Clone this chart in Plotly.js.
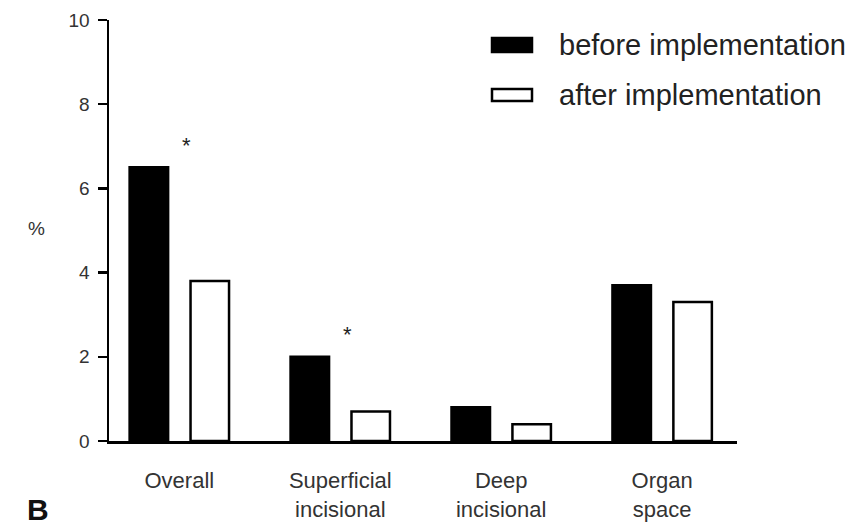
<!DOCTYPE html>
<html>
<head>
<meta charset="utf-8">
<script src="https://cdn.plot.ly/plotly-3.0.1.min.js"></script>
<style>html,body{margin:0;padding:0;background:#fff;}#chart{width:864px;height:529px;}</style>
</head>
<body>
<div id="chart"></div>
<script>
// ---- data ----
const categories = ["Overall", "Superficial incisional", "Deep incisional", "Organ space"];
const tickLabels = ["Overall", "Superficial<br>incisional", "Deep<br>incisional", "Organ<br>space"];
const seriesNames = ["before implementation", "after implementation"];
const beforeValues = [6.5, 2.0, 0.8, 3.7];
const afterValues = [3.8, 0.7, 0.4, 3.3];
const significant = [true, true, false, false];
const yTicks = [0, 2, 4, 6, 8, 10];

// ---- layout geometry (pixels) ----
const W = 864, H = 529;
const plotL = 109, plotR = 737, plotT = 20, plotB = 441;
const px = x => (x - plotL) / (plotR - plotL);
const py = y => (plotB - y) / (plotB - plotT);

const catIdx = categories.map((c, i) => i);
const FONT = "Liberation Sans, Arial, sans-serif";

const traces = [
  {
    type: "bar", name: seriesNames[0], x: catIdx, y: beforeValues,
    marker: {color: "#000000", line: {color: "#000000", width: 2.5}},
    showlegend: false, hoverinfo: "y"
  },
  {
    type: "bar", name: seriesNames[1], x: catIdx, y: afterValues,
    marker: {color: "#ffffff", line: {color: "#000000", width: 2.5}},
    showlegend: false, hoverinfo: "y"
  }
];

const annotations = [];
significant.forEach((s, i) => {
  if (s) {
    annotations.push({
      x: i + 0.046, xref: "x", y: Math.max(beforeValues[i], afterValues[i]) + 0.53, yref: "y",
      text: "*", showarrow: false, xanchor: "center", yanchor: "middle",
      font: {family: FONT, size: 22, color: "#222"}
    });
  }
});
// y axis label
annotations.push({
  x: px(36), y: py(228), xref: "paper", yref: "paper", text: "%", showarrow: false,
  xanchor: "center", yanchor: "middle",
  font: {family: FONT, size: 19, color: "#333"}
});
// panel letter
annotations.push({
  x: px(25), y: py(528), xref: "paper", yref: "paper", text: "<b>B</b>", showarrow: false,
  xanchor: "left", yanchor: "bottom",
  font: {family: FONT, size: 30, color: "#111"}
});

// manual legend (large swatches as in the reference)
const shapes = [];
const legendRows = [{y0: 38, y1: 52, fill: "#000000"}, {y0: 89, y1: 101, fill: "#ffffff"}];
legendRows.forEach((r, i) => {
  shapes.push({
    type: "rect", xref: "paper", yref: "paper",
    x0: px(492), x1: px(532), y0: py(r.y1), y1: py(r.y0),
    fillcolor: r.fill, line: {color: "#000", width: 2.5}
  });
  annotations.push({
    x: px(557), y: py((r.y0 + r.y1) / 2), xref: "paper", yref: "paper",
    text: seriesNames[i], showarrow: false, xanchor: "left", yanchor: "middle",
    font: {family: FONT, size: 29, color: "#222"}
  });
});

const layout = {
  width: W, height: H,
  margin: {l: plotL, r: W - plotR, t: plotT, b: H - plotB},
  paper_bgcolor: "#ffffff", plot_bgcolor: "#ffffff",
  barmode: "group", bargap: 0.243, bargroupgap: 0.368,
  font: {family: FONT, color: "#333"},
  xaxis: {
    type: "linear", range: [-0.437, 3.465], tickmode: "array",
    tickvals: catIdx, ticktext: tickLabels, ticks: "", showgrid: false, zeroline: false,
    showline: true, linecolor: "#000", linewidth: 2.5,
    tickfont: {size: 22, color: "#333"}, ticklabelstandoff: 18, fixedrange: true
  },
  yaxis: {
    range: [0, 10], tickmode: "array", tickvals: yTicks, ticks: "outside", ticklen: 9,
    tickwidth: 2.5, tickcolor: "#000", showgrid: false, zeroline: false,
    showline: true, linecolor: "#000", linewidth: 2.5,
    tickfont: {size: 19, color: "#333"}, ticklabelstandoff: 4, fixedrange: true
  },
  shapes: shapes,
  annotations: annotations,
  showlegend: false
};

Plotly.newPlot("chart", traces, layout, {staticPlot: true, displayModeBar: false});
</script>
</body>
</html>
